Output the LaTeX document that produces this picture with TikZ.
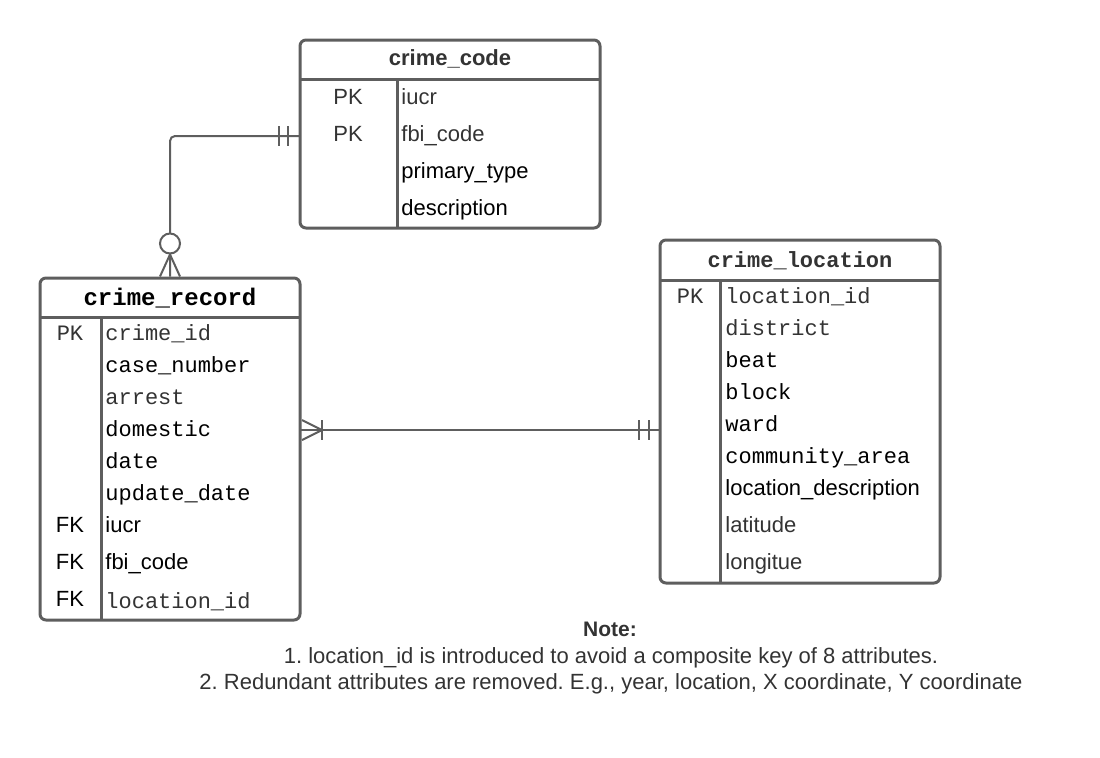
\documentclass[tikz,border=0pt]{standalone}
\usepackage{fontspec}
\setmainfont{Liberation Sans}
\setmonofont{Liberation Mono}
\usepackage{tikz}
\usetikzlibrary{positioning}
\usetikzlibrary{calc}
\definecolor{lgray}{RGB}{94,94,94}
\definecolor{tgray}{RGB}{51,51,51}
\frenchspacing

\begin{document}
\begin{tikzpicture}[x=0.5pt, y=-0.5pt,
box/.style={draw=lgray, line width=1.5pt, rounded corners=3pt, inner sep=0pt},
sep/.style={draw=lgray, line width=1.5pt},
rel/.style={draw=lgray, line width=1pt},
cell/.style={anchor=base west, inner sep=0pt, font=\fontsize{11}{13}\selectfont},
key/.style={anchor=base, inner sep=0pt, font=\fontsize{11}{13}\selectfont, tgray},
title/.style={anchor=base, inner sep=0pt, font=\fontsize{11}{13}\selectfont\bfseries},
note/.style={anchor=base, inner sep=0pt, font=\fontsize{11}{13}\selectfont, tgray}]
\useasboundingbox (0,0) rectangle (1100,757);

% tables
\node [box, minimum width=150pt, minimum height=94pt] (code) at (450,134) {};
\node [box, minimum width=130pt, minimum height=171pt] (record) at (170,449) {};
\node [box, minimum width=140pt, minimum height=171.5pt] (loc) at (800,411.5) {};

% crime_code
\node [title, tgray] (code-t) at (450,65) {crime\_code};
\draw [sep] (300,79) -- (600,79);
\draw [sep] (397,79) -- (397,228);
\node [key] (code-k1) at (348,104) {PK};
\node [key] (code-k2) at (348,141) {PK};
\node [cell, tgray] (code-iucr) at (401,104) {iucr};
\node [cell, tgray] (code-fbi) at (401,141) {fbi\_code};
\node [cell] (code-type) at (401,178) {primary\_type};
\node [cell] (code-desc) at (401,215) {description};

% crime_record
\node [title, font=\fontsize{12}{14}\selectfont\ttfamily\bfseries] (rec-t) at (170,305) {crime\_record};
\draw [sep] (40,317) -- (300,317);
\draw [sep] (101,317) -- (101,620);
\node [key, font=\fontsize{11}{13}\selectfont\ttfamily] (rec-k1) at (70,340) {PK};
\node [key, black] (rec-k2) at (70,532) {FK};
\node [key, black] (rec-k3) at (70,569) {FK};
\node [key, black] (rec-k4) at (70,606) {FK};
\node [cell, tgray, font=\fontsize{11}{13}\selectfont\ttfamily] (rec-id) at (105,340) {crime\_id};
\node [cell, font=\fontsize{11}{13}\selectfont\ttfamily] (rec-case) at (105,372) {case\_number};
\node [cell, tgray, font=\fontsize{11}{13}\selectfont\ttfamily] (rec-arrest) at (105,404) {arrest};
\node [cell, font=\fontsize{11}{13}\selectfont\ttfamily] (rec-dom) at (105,436) {domestic};
\node [cell, font=\fontsize{11}{13}\selectfont\ttfamily] (rec-date) at (105,468) {date};
\node [cell, font=\fontsize{11}{13}\selectfont\ttfamily] (rec-upd) at (105,500) {update\_date};
\node [cell] (rec-iucr) at (105,532) {iucr};
\node [cell] (rec-fbi) at (105,569) {fbi\_code};
\node [cell, tgray, font=\fontsize{11}{13}\selectfont\ttfamily] (rec-loc) at (105,608) {location\_id};

% crime_location
\node [title, tgray, font=\fontsize{11}{13}\selectfont\ttfamily\bfseries] (loc-t) at (800,267) {crime\_location};
\draw [sep] (660,280) -- (940,280);
\draw [sep] (720,280) -- (720,583);
\node [key, font=\fontsize{11}{13}\selectfont\ttfamily] (loc-k1) at (690,303) {PK};
\node [cell, tgray, font=\fontsize{11}{13}\selectfont\ttfamily] (loc-id) at (725,303) {location\_id};
\node [cell, tgray, font=\fontsize{11}{13}\selectfont\ttfamily] (loc-dist) at (725,335) {district};
\node [cell, font=\fontsize{11}{13}\selectfont\ttfamily] (loc-beat) at (725,367) {beat};
\node [cell, font=\fontsize{11}{13}\selectfont\ttfamily] (loc-block) at (725,399) {block};
\node [cell, font=\fontsize{11}{13}\selectfont\ttfamily] (loc-ward) at (725,431) {ward};
\node [cell, font=\fontsize{11}{13}\selectfont\ttfamily] (loc-area) at (725,463) {community\_area};
\node [cell] (loc-desc) at (725,495) {location\_description};
\node [cell, tgray] (loc-lat) at (725,532) {latitude};
\node [cell, tgray] (loc-lon) at (725,569) {longitue};

% relations
\coordinate (cc-l) at (300,136);
\coordinate (rec-r) at (300,430);
\coordinate (loc-l) at (660,430);

% crime_code -- crime_record
\draw [rel, rounded corners=2.5pt] (cc-l) -| (record.north);
\draw [rel] ($(cc-l)+(-21,-10)$) -- ++(0,20);
\draw [rel] ($(cc-l)+(-12,-10)$) -- ++(0,20);
\draw [rel, fill=white] ($(record.north)+(0,-33)$) circle (5pt);
\draw [rel] ($(record.north)+(-10,0)$) -- ($(record.north)+(0,-22)$) -- ($(record.north)+(10,0)$);

% crime_record -- crime_location
\draw [rel] (rec-r) -- (loc-l);
\draw [rel] ($(rec-r)+(2,-10)$) -- ($(rec-r)+(22,0)$) -- ($(rec-r)+(2,10)$);
\draw [rel] ($(rec-r)+(22,-10)$) -- ++(0,20);
\draw [rel] ($(loc-l)+(-21,-10)$) -- ++(0,20);
\draw [rel] ($(loc-l)+(-11,-10)$) -- ++(0,20);

% note
\node [note, font=\fontsize{10.5}{12}\selectfont\bfseries] (note) at (610,636) {Note:};
\node [note] (note1) at (611,663) {1. location\_id is introduced to avoid a composite key of 8 attributes.};
\node [note] (note2) at (611,689) {2. Redundant attributes are removed. E.g., year, location, X coordinate, Y coordinate};
\end{tikzpicture}
\end{document}
